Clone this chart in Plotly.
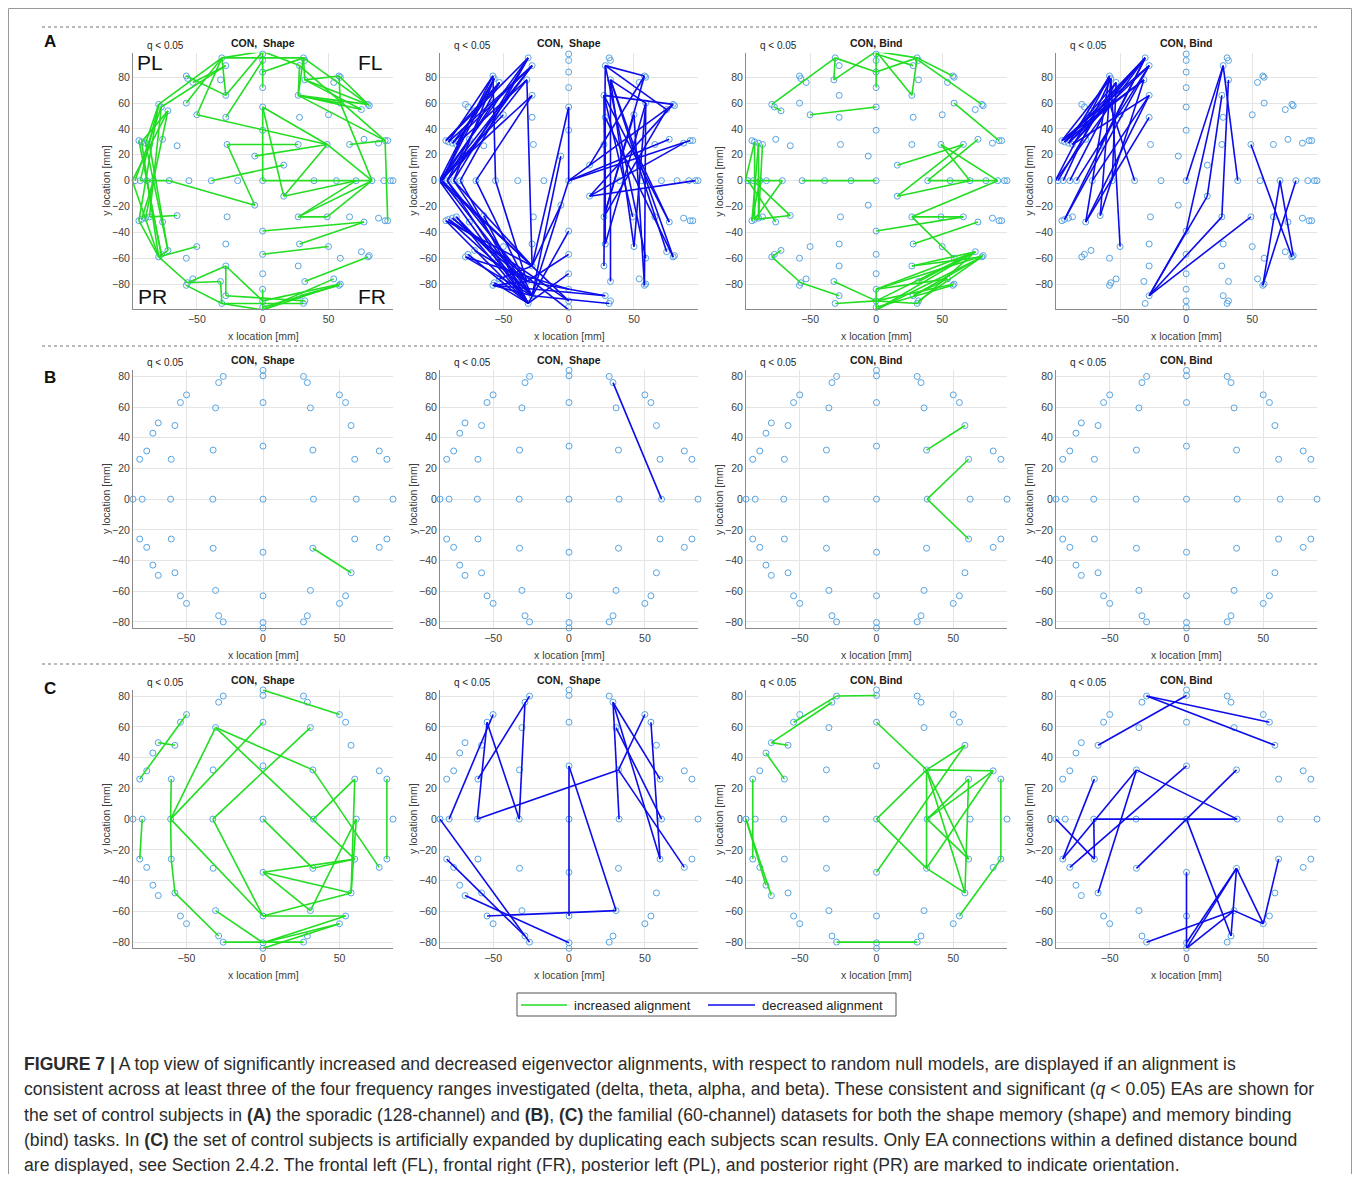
import plotly.graph_objects as go

W, H = 1344, 1166

# ---------------- electrode layouts (mm) ----------------
# 128-channel (sporadic) layout
E128_X = [
    0, 0, 0, 0, 0, 0, 0,
    -31, -28, -32, -28, -28, -27,
    31, 32, 28, 32, 27, 28, 27,
    -58, -57, -53, -58, -50, -79, -77, -72, -76, -65, -94, -92, -89, -86,
    58, 59, 54, 59, 50, 75, 80, 81, 77, 66, 88, 93, 95, 49,
    -6, 16,
    -99, -97, -93, -88, -83, -71, -56, -39, -19, 0, 39, 56, 71, 83, 92, 97, 99,
    0, 0, 0, 0, 0, 0, 0,
    -31, -28, -32, -28, -28, -27,
    31, 32, 28, 32, 27, 28, 27,
    -58, -57, -53, -58, -50, -79, -77, -72, -76, -65, -94, -92, -89, -86,
    58, 59, 54, 59, 50, 75, 80, 81, 77, 66, 88, 93, 95, 49,
    -6, 16,
]
E128_Y = [
    100, 98, 93, 84, 72, 57, 39,
    95, 89, 78, 66, 49, 28,
    95, 93, 89, 78, 66, 49, 28,
    81, 79, 76, 60, 51, 59, 57, 54, 32, 27, 31, 30, 29, 28,
    81, 80, 76, 60, 51, 55, 59, 58, 32, 28, 29, 31, 31, 28,
    19, 12,
    0, 0, 0, 0, 0, 0, 0, 0, 0, 0, 0, 0, 0, 0, 0, 0, 0,
    -100, -98, -93, -84, -72, -57, -39,
    -95, -89, -78, -66, -49, -28,
    -95, -93, -89, -78, -66, -49, -28,
    -81, -79, -76, -60, -51, -59, -57, -54, -32, -27, -31, -30, -29, -28,
    -81, -80, -76, -60, -51, -55, -59, -58, -32, -28, -29, -31, -31, -28,
    -19, -12,
]

# 60-channel (familial) layout
E60_X = [
    0, 0, -26, 26.5, -29, 29,
    0, -31, 31, -50, 50, -54, 54,
    -57.6, 57.6, -68.5, -72, -76, -80.6, -60, -32.6, 0, 32.6, 60, 76, 81,
    -85, -79, -60.4, -32.8, 0, 33, 61, 85,
    0, 0, -26, 26.5, -29, 29,
    0, -31, 31, -50, 50, -54, 54,
    -57.6, 57.6, -68.5, -72, -76, -80.6, -60, -32.6, 0, 32.6, 60, 76, 81,
]
E60_Y = [
    84, 80.4, 80, 80, 76, 76,
    63, 59.5, 59.5, 68, 68, 63, 63,
    48, 48, 49.7, 43, 31.4, 26, 26, 32, 34.6, 32, 26, 31.4, 26,
    0, 0, 0, 0, 0, 0, 0, 0,
    -84, -80.4, -80, -80, -76, -76,
    -63, -59.5, -59.5, -68, -68, -63, -63,
    -48, -48, -49.7, -43, -31.4, -26, -26, -32, -34.6, -32, -26, -31.4, -26,
]

# ---------------- connections (endpoint electrodes, mm) ----------------
EDGES_A1 = [  # CON, Shape (128ch) increased
    (-31, 95, 31, 95), (-31, 95, 0, 100), (-31, 95, -79, 59), (-28, 89, -77, 57),
    (-31, 95, -28, 66), (-28, 66, -58, 81), (-31, 95, -58, 60), (-31, 95, -50, 51),
    (-28, 89, -53, 76), (-28, 49, 0, 93), (-28, 66, 0, 100), (0, 100, 0, 84),
    (0, 84, 31, 95), (0, 100, 28, 89), (0, 84, 0, 72), (31, 95, 28, 66),
    (31, 95, 32, 78), (28, 89, 27, 66), (32, 78, 58, 81), (32, 78, 80, 59),
    (27, 66, 80, 59), (27, 66, 93, 31), (27, 66, 75, 55), (27, 66, 59, 60),
    (31, 95, 80, 59), (58, 81, 81, 58), (58, 81, 59, 60), (32, 78, 75, 55),
    (28, 89, 93, 31), (66, 28, 93, 31), (93, 31, 95, -31), (59, 60, 83, 0),
    (49, 28, 83, 0), (0, 57, 0, 0), (0, 57, 16, -12), (0, 57, 49, 28),
    (49, 28, 16, -12), (-27, 28, 27, 28), (-27, 28, -6, -19), (-39, 0, 16, 12),
    (-50, 51, 49, 28), (-6, 19, 49, 28), (0, 0, 83, 0), (16, -12, 71, 0),
    (83, 0, 27, -28), (-71, 0, -6, -19), (-93, 0, -71, 0), (-79, 59, -93, 0),
    (-72, 54, -99, 0), (-77, 57, -86, -28), (-79, 59, -94, -31), (-92, 30, -79, -59),
    (-86, 28, -72, -54), (-72, 54, -89, -29), (-77, 57, -97, 0), (-94, 31, -77, -57),
    (-89, 29, -72, -54), (-79, 59, -89, 29), (-72, 54, -92, 30), (-99, 0, -79, -59),
    (-88, 0, -77, -57), (-83, 0, -92, -30), (-65, -27, -86, -28), (-94, -31, -79, -59),
    (-79, -59, -72, -54), (-50, -51, -79, -59), (-79, -59, -57, -79), (-57, -79, -28, -66),
    (-57, -79, -32, -78), (-58, -81, -31, -95), (-32, -78, -31, -95), (-28, -66, -28, -89),
    (-28, -66, 0, -93), (-31, -95, 31, -95), (-28, -89, 32, -93), (-31, -95, 0, -100),
    (0, -84, 0, -100), (0, -100, 59, -80), (0, -100, 54, -76), (0, -98, 58, -81),
    (0, -93, 59, -80), (28, -89, 58, -81), (32, -78, 80, -59), (0, -57, 50, -51),
    (28, -49, 77, -32), (0, -39, 77, -32), (27, -28, 71, 0), (27, -28, 49, -28),
    (49, -28, 83, 0),
]
EDGES_A2 = [  # CON, Shape (128ch) decreased
    (-99, 0, -58, 81), (-97, 0, -57, 79), (-93, 0, -53, 76), (-99, 0, -31, 95),
    (-97, 0, -28, 89), (-93, 0, -32, 78), (-88, 0, -31, 95), (-94, 31, -31, 95),
    (-92, 30, -28, 89), (-89, 29, -53, 76), (-86, 28, -57, 79), (-99, 0, -28, 66),
    (-97, 0, -58, 60), (-93, 0, -28, 89), (-88, 0, -57, 79), (-83, 0, -31, 95),
    (-89, 29, -28, 89), (-92, 30, -58, 81), (-94, 31, -53, 76), (-71, 0, -28, 66),
    (-56, 0, -58, 81), (-86, 28, -32, 78), (-99, 0, -50, 51), (-97, 0, -72, 54),
    (-32, 78, -28, -66), (0, 57, -28, -66), (-6, 19, -28, -89),
    (-99, 0, -31, -95), (-97, 0, -28, -89), (-93, 0, -32, -78), (-88, 0, -28, -66),
    (-99, 0, -28, -66), (-94, -31, -31, -95), (-92, -30, -28, -89), (-89, -29, -32, -78),
    (-86, -28, -31, -95), (-94, -31, -28, -66), (-92, -30, 0, -93), (-89, -29, 0, -100),
    (-86, -28, -28, -89), (-79, -59, -28, -89), (-77, -57, -31, -95), (-72, -54, -32, -78),
    (-79, -59, 0, -84), (-58, -81, -28, -89), (-58, -81, -32, -78), (-57, -79, -31, -95),
    (-53, -76, -28, -66), (-65, -27, -31, -95), (-71, 0, -28, -89), (-56, 0, -32, -78),
    (-93, 0, -31, -95), (-97, 0, 0, -93), (-88, 0, -28, -89), (-83, 0, -31, -95),
    (-32, -78, 28, -89), (-28, -89, 31, -95), (-58, -81, 28, -89), (-31, -95, 0, -72),
    (0, -39, -31, -95), (0, 0, -28, -89), (0, -57, -32, -78), (-6, -19, -28, -66),
    (28, 89, 27, -66), (27, 66, 28, -49), (28, 89, 59, -60), (32, 78, 80, -59),
    (50, 51, 58, -81), (59, 60, 50, -51), (27, 66, 49, -28), (32, 78, 50, -51),
    (28, 89, 58, 81), (32, 78, 59, 60), (27, 66, 80, 59), (28, 89, 75, 55),
    (58, 81, 16, 12), (0, 0, 93, 31), (97, 0, 16, -12), (88, 29, 16, -12),
    (75, 55, 27, -28), (77, 32, 0, 0), (27, 66, 77, -32), (80, 59, 0, 0),
    (28, 49, 80, -59), (32, 78, 75, -55), (59, 60, 28, -49), (50, 51, 27, -28),
    (58, 81, 27, -28), (80, 59, 16, -12), (49, 28, 77, -32), (59, 60, 58, -81),
    (0, 57, 0, 0), (28, 49, 28, -49), (32, 78, 32, -78),
]
EDGES_A3 = [  # CON, Bind (128ch) increased
    (-79, 59, -31, 95), (-72, 54, -77, 57), (-31, 95, -32, 78), (-32, 78, 0, 100),
    (-31, 95, 0, 84), (0, 100, 0, 72), (0, 100, 31, 95), (0, 84, 31, 95),
    (0, 100, 27, 66), (31, 95, 27, 66), (31, 95, 58, 81), (28, 89, 0, 98),
    (32, 93, 80, 59), (59, 60, 93, 31), (-50, 51, 0, 57),
    (-92, 30, -92, -30), (-89, 29, -89, -29), (-99, 0, -71, 0), (-99, 0, -92, 30),
    (-93, 0, -65, -27), (-71, 0, -92, -30), (-89, 29, -94, -31), (-86, 28, -89, -29),
    (-97, 0, -76, -32), (-88, 0, -94, -31), (-65, -27, -92, -30),
    (-56, 0, 0, 0),
    (16, 12, 66, 28), (39, 0, 77, 32), (49, 28, 92, 0), (49, 28, 71, 0),
    (39, 0, 92, 0), (16, -12, 71, 0), (16, -12, 66, 28), (27, -28, 92, 0),
    (27, -28, 66, -28), (0, -39, 66, -28), (28, -49, 77, -32), (27, -28, 59, -60),
    (27, -66, 75, -55),
    (0, -84, 75, -55), (0, -100, 80, -59), (0, -93, 75, -55), (0, -84, 0, -100),
    (28, -89, 80, -59), (31, -95, 75, -55), (0, -98, 58, -81), (0, -84, 81, -58),
    (32, -78, 75, -55), (28, -89, 54, -76), (0, -93, 59, -80), (32, -93, 80, -59),
    (0, -100, 75, -55), (27, -66, 80, -59), (0, -84, 54, -76),
    (-79, -59, -57, -79), (-57, -79, -28, -89), (-32, -78, 0, -93), (-31, -95, 0, -93),
    (0, -93, 31, -95), (-79, -59, -72, -54),
]
EDGES_A4 = [  # CON, Bind (128ch) decreased
    (-92, 30, -31, 95), (-89, 29, -31, 95), (-94, 31, -28, 89), (-92, 30, -32, 78),
    (-89, 29, -28, 89), (-86, 28, -31, 95), (-99, 0, -58, 81), (-99, 0, -31, 95),
    (-97, 0, -53, 76), (-93, 0, -57, 79), (-83, 0, -28, 89), (-71, 0, -28, 66),
    (-92, -30, -31, 95), (-92, -30, -28, 89), (-76, -32, -28, 66), (-76, -32, -28, 49),
    (-76, -32, -58, 81), (-65, -27, -57, 79), (-65, -27, -32, 78), (-58, 60, -39, 0),
    (-57, 79, -50, -51), (-94, 31, -57, 79), (-89, 29, -58, 81), (-92, 30, -53, 76),
    (-86, 28, -28, 66), (-94, 31, -32, 78), (-88, 0, -58, 60), (-56, 0, -53, 76),
    (-86, 28, -58, 60), (-65, 27, -31, 95),
    (0, 0, 28, 89), (0, -39, 28, 89), (16, -12, 27, 66), (27, -28, 32, 78),
    (28, 89, 39, 0), (-28, -89, 16, -12), (-28, -89, 27, -28), (-28, -89, 49, -28),
    (-28, -89, 0, -39),
    (49, 28, 80, -59), (71, 0, 58, -81), (83, 0, 58, -81), (71, 0, 81, -58),
]
EDGES_B1 = [(32.6, -32, 57.6, -48)]
EDGES_B2 = [(29, 76, 61, 0)]
EDGES_B3 = [(32.6, 32, 57.6, 48), (33, 0, 60, 26), (33, 0, 60, -26)]
EDGES_B4 = []
EDGES_C1 = [
    (0, 84, 50, 68), (-50, 68, -80.6, 26), (-68.5, 49.7, -57.6, 48), (0, 63, -60.4, 0),
    (31, 59.5, -32.8, 0), (-31, 59.5, -60.4, 0), (-31, 59.5, 32.6, 32), (-31, 59.5, 60, -26),
    (-60, 26, -60.4, 0), (-60.4, 0, -60, -26), (-60.4, 0, 0, -63), (-32.8, 0, 0, -63),
    (-60, -26, -57.6, -48), (-57.6, -48, -29, -76), (-79, 0, -80.6, -26), (81, 26, 81, -26),
    (60, 26, 33, 0), (60, 26, 57.6, -48), (32.6, 32, 76, -31.4), (0, -34.6, 57.6, -48),
    (0, -34.6, 60, -26), (0, -34.6, 31, -59.5), (0, -63, 54, -63), (0, -63, 57.6, -48),
    (31, -59.5, 61, 0), (0, -80.4, 54, -63), (0, -80.4, 50, -68), (0, -84, 50, -68),
    (-26, -80, 26.5, -80), (-31, -59.5, 0, -80.4), (0, 0, 32.6, -32), (61, 0, 57.6, -48),
    (32.6, -32, 60, -26),
]
EDGES_C2 = [
    (-79, 0, -50, 68), (-54, 63, -60.4, 0), (-60.4, 0, 32.6, 32), (-60, 26, -26, 80),
    (-32.8, 0, -29, 76), (-54, 63, -32.8, 0), (0, 34.6, 0, -63), (0, 34.6, 31, -59.5),
    (31, -59.5, -54, -63), (-85, 0, -26, -80), (-80.6, -26, -29, -76), (-68.5, -49.7, 0, -80.4),
    (50, 68, 32.6, 32), (32.6, 32, 76, -31.4), (29, 76, 60, 26), (29, 76, 60, -26),
    (29, 76, 33, 0), (31, 59.5, 61, 0), (54, 63, 60, -26),
]
EDGES_C3 = [
    (-26, 80, 0, 80.4), (-26, 80, -54, 63), (-29, 76, -68.5, 49.7), (-68.5, 49.7, -57.6, 48),
    (-72, 43, -60, 26), (-80.6, 26, -80.6, -26), (-85, 0, -72, -43), (-85, 0, -68.5, -49.7),
    (0, 63, 32.6, 32), (0, 0, 32.6, 32), (0, 0, 32.6, -32), (0, -34.6, 57.6, 48),
    (32.6, 32, 76, 31.4), (32.6, 32, 32.6, -32), (32.6, 32, 57.6, -48), (32.6, 32, 60, -26),
    (33, 0, 76, 31.4), (33, 0, 60, 26), (60, 26, 57.6, -48), (32.6, -32, 76, 31.4),
    (32.6, -32, 57.6, -48), (81, 26, 81, -26), (81, -26, 54, -63), (-26, -80, 26.5, -80),
    (32.6, 32, 57.6, 48), (33, 0, 60, -26),
]
EDGES_C4 = [
    (-26, 80, 54, 63), (-26, 80, 57.6, 48), (0, 80.4, -57.6, 48), (-32.6, 32, -80.6, -26),
    (-32.6, 32, -57.6, -48), (-32.6, 32, 33, 0), (0, 34.6, -76, -31.4), (32.6, 32, -32.6, -32),
    (-60, 26, -80.6, -26), (-85, 0, -60, -26), (-60, -26, -60.4, 0), (-60.4, 0, 33, 0),
    (0, 0, 29, -76), (0, -34.6, 0, -84), (0, -84, 32.6, -32), (0, -80.4, 32.6, -32),
    (0, -84, 31, -59.5), (32.6, -32, 29, -76), (32.6, -32, 50, -68), (50, -68, 60, -26),
    (31, -59.5, 50, -68), (-26, -80, 31, -59.5),
]

EDGES = [[EDGES_A1, EDGES_A2, EDGES_A3, EDGES_A4],
         [EDGES_B1, EDGES_B2, EDGES_B3, EDGES_B4],
         [EDGES_C1, EDGES_C2, EDGES_C3, EDGES_C4]]
TITLES = ["CON,  Shape", "CON,  Shape", "CON, Bind", "CON, Bind"]
KIND = ["inc", "dec", "inc", "dec"]
ROW_LETTERS = ["A", "B", "C"]
X_TICKS = [-50, 0, 50]
Y_TICKS = [-80, -60, -40, -20, 0, 20, 40, 60, 80]

GREEN = "rgb(34,221,34)"
BLUE = "rgb(12,12,235)"
MARK = "rgb(86,164,226)"
TXT = "#404040"

COL_PX = [(125, 385), (432, 690), (738, 999), (1048, 1309)]
ROW_PX = [(44.7, 301), (362, 620), (681.6, 940.3)]
RANGES = [((-98.5, 99), (-99.3, 99)), ((-85, 85), (-84, 84.2)), ((-85, 85), (-84, 84.2))]


def px(xp):
    return xp / W


def py(yp):
    return 1 - yp / H


def snap(x, y, ex, ey):
    best, bi = None, 0
    for i in range(len(ex)):
        d = (ex[i] - x) ** 2 + (ey[i] - y) ** 2
        if best is None or d < best:
            best, bi = d, i
    return bi


fig = go.Figure()
layout = {}
annotations = []
shapes = []
tickfont = dict(family="Liberation Sans, Arial, sans-serif", size=10.5, color=TXT)

for r in range(3):
    ex, ey = (E128_X, E128_Y) if r == 0 else (E60_X, E60_Y)
    (t, b) = ROW_PX[r]
    xr, yr = RANGES[r]
    for c in range(4):
        n = r * 4 + c + 1
        xa = "x" if n == 1 else f"x{n}"
        ya = "y" if n == 1 else f"y{n}"
        l, rt = COL_PX[c]
        col = GREEN if KIND[c] == "inc" else BLUE
        fig.add_trace(go.Scatter(
            x=ex, y=ey, mode="markers", xaxis=xa, yaxis=ya,
            marker=dict(symbol="circle-open", size=6, color=MARK, line=dict(width=1, color=MARK)),
            showlegend=False, cliponaxis=False, hoverinfo="skip"))
        lx, ly = [], []
        for (x1, y1, x2, y2) in EDGES[r][c]:
            i = snap(x1, y1, ex, ey)
            j = snap(x2, y2, ex, ey)
            lx += [ex[i], ex[j], None]
            ly += [ey[i], ey[j], None]
        if lx:
            fig.add_trace(go.Scatter(
                x=lx, y=ly, mode="lines", xaxis=xa, yaxis=ya,
                line=dict(color=col, width=1.6), showlegend=False,
                cliponaxis=False, hoverinfo="skip"))
        axx = dict(domain=[px(l), px(rt)], range=list(xr), anchor=ya,
                   tickvals=X_TICKS, ticks="", showgrid=True, gridcolor="#e4e4e4",
                   gridwidth=1, zeroline=False, showline=True, linecolor="#8a8a8a",
                   linewidth=1, mirror=False, tickfont=tickfont, fixedrange=True)
        axy = dict(domain=[py(b), py(t)], range=list(yr), anchor=xa,
                   tickvals=Y_TICKS, ticks="", showgrid=True, gridcolor="#e4e4e4",
                   gridwidth=1, zeroline=False, showline=True, linecolor="#8a8a8a",
                   linewidth=1, mirror=False, tickfont=tickfont, fixedrange=True)
        layout["xaxis" if n == 1 else f"xaxis{n}"] = axx
        layout["yaxis" if n == 1 else f"yaxis{n}"] = axy
        # titles / labels
        annotations.append(dict(text="<b>" + TITLES[c] + "</b>", x=px((l + rt) / 2), y=py(t - 10),
                                xref="paper", yref="paper", showarrow=False, xanchor="center",
                                yanchor="middle",
                                font=dict(family="Liberation Sans, Arial", size=10.5, color="#1a1a1a")))
        annotations.append(dict(text="q &lt; 0.05", x=px(l + 12), y=py(t - 7),
                                xref="paper", yref="paper", showarrow=False, xanchor="left",
                                yanchor="middle",
                                font=dict(family="Liberation Sans, Arial", size=10, color="#262626")))
        annotations.append(dict(text="x location [mm]", x=px((l + rt) / 2), y=py(b + 27),
                                xref="paper", yref="paper", showarrow=False, xanchor="center",
                                yanchor="middle", font=tickfont))
        annotations.append(dict(text="y location [mm]", x=px(l - 27), y=py((t + b) / 2),
                                xref="paper", yref="paper", showarrow=False, xanchor="center",
                                yanchor="middle", textangle=-90, font=tickfont))
    annotations.append(dict(text="<b>" + ROW_LETTERS[r] + "</b>", x=px(42), y=py([34, 369, 680][r]),
                            xref="paper", yref="paper", showarrow=False, xanchor="center",
                            yanchor="middle",
                            font=dict(family="Liberation Sans, Arial", size=17, color="#111")))
    shapes.append(dict(type="line", xref="paper", yref="paper", x0=px(34), x1=px(1312),
                       y0=py([19, 338, 656][r]), y1=py([19, 338, 656][r]),
                       line=dict(color="#777", width=1, dash="dot")))

# orientation labels in first panel
for txt, xp, yp in [("PL", 142, 55), ("FL", 362, 55), ("PR", 144, 289), ("FR", 364, 289)]:
    annotations.append(dict(text=txt, x=px(xp), y=py(yp), xref="paper", yref="paper",
                            showarrow=False, xanchor="center", yanchor="middle",
                            font=dict(family="Liberation Sans, Arial", size=21, color="#111")))

# legend box
shapes.append(dict(type="rect", xref="paper", yref="paper", x0=px(509), x1=px(888),
                   y0=py(1008), y1=py(985), line=dict(color="#555", width=1), fillcolor="white"))
shapes.append(dict(type="line", xref="paper", yref="paper", x0=px(513), x1=px(559),
                   y0=py(997), y1=py(997), line=dict(color=GREEN, width=1.6)))
shapes.append(dict(type="line", xref="paper", yref="paper", x0=px(700), x1=px(747),
                   y0=py(997), y1=py(997), line=dict(color=BLUE, width=1.6)))
legfont = dict(family="Liberation Sans, Arial", size=13, color="#222")
annotations.append(dict(text="increased alignment", x=px(564), y=py(997.5), xref="paper", yref="paper",
                        showarrow=False, xanchor="left", yanchor="middle", font=legfont))
annotations.append(dict(text="decreased alignment", x=px(752), y=py(997.5), xref="paper", yref="paper",
                        showarrow=False, xanchor="left", yanchor="middle", font=legfont))

# outer border (left, top, right)
for (x0, y0, x1, y1) in [(0.5, 0.5, 0.5, H), (0.5, 0.5, W - 0.5, 0.5), (W - 0.5, 0.5, W - 0.5, H)]:
    shapes.append(dict(type="line", xref="paper", yref="paper", x0=px(x0), x1=px(x1),
                       y0=py(y0), y1=py(y1), line=dict(color="#9a9a9a", width=1)))

CAPTION = [
    "<b>FIGURE 7 |</b> A top view of significantly increased and decreased eigenvector alignments, with respect to random null models, are displayed if an alignment is",
    "consistent across at least three of the four frequency ranges investigated (delta, theta, alpha, and beta). These consistent and significant (<i>q</i> &lt; 0.05) EAs are shown for",
    "the set of control subjects in <b>(A)</b> the sporadic (128-channel) and <b>(B)</b>, <b>(C)</b> the familial (60-channel) datasets for both the shape memory (shape) and memory binding",
    "(bind) tasks. In <b>(C)</b> the set of control subjects is artificially expanded by duplicating each subjects scan results. Only EA connections within a defined distance bound",
    "are displayed, see Section 2.4.2. The frontal left (FL), frontal right (FR), posterior left (PL), and posterior right (PR) are marked to indicate orientation.",
]
for k, line in enumerate(CAPTION):
    annotations.append(dict(text=line, x=px(14), y=py(1056 + 25.3 * k), xref="paper", yref="paper",
                            showarrow=False, xanchor="left", yanchor="middle",
                            font=dict(family="Liberation Sans, Arial, sans-serif", size=17.6, color="#2b2b2b")))

fig.update_layout(
    width=W, height=H, margin=dict(l=0, r=0, t=0, b=0),
    paper_bgcolor="white", plot_bgcolor="white",
    annotations=annotations, shapes=shapes, showlegend=False,
    **layout,
)
fig.write_html("out.html")
